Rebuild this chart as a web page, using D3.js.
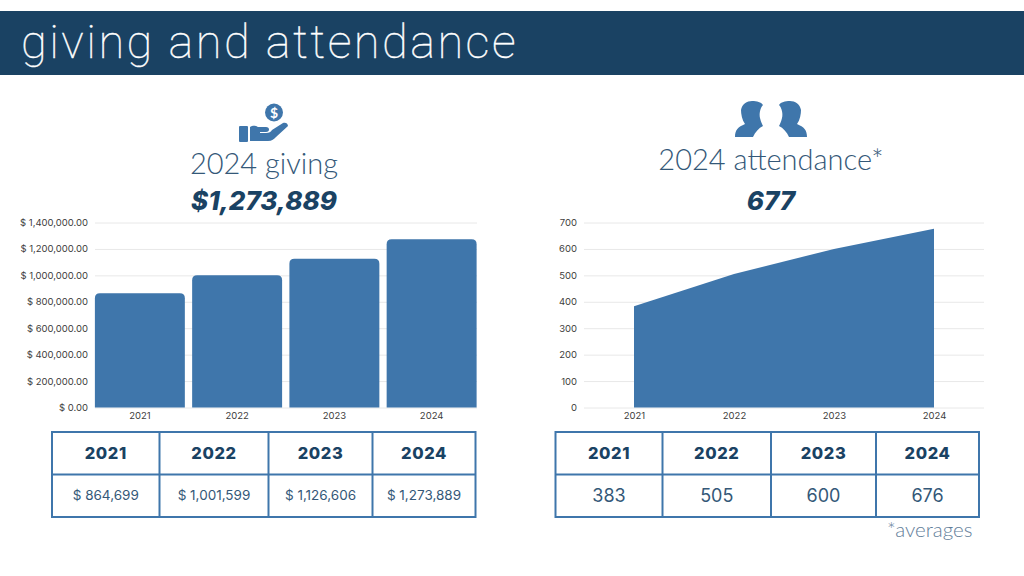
<!DOCTYPE html>
<html><head><meta charset="utf-8">
<script src="https://cdn.jsdelivr.net/npm/d3@7"></script>
<style>
html,body{margin:0;padding:0;background:#fff;overflow:hidden}
svg{display:block}
text{font-family:"Lato",sans-serif}
.axis text{font-family:"Inter","Noto Sans",sans-serif;fill:#404040}
</style></head><body>
<svg id="c" width="1024" height="576"></svg>
<script>
const years = ["2021","2022","2023","2024"];
const givingValues = [864699,1001599,1126606,1273889];
const attendanceValues = [383,505,600,676];
const givingLabels = ["$ 864,699","$ 1,001,599","$ 1,126,606","$ 1,273,889"];
const attendanceLabels = ["383","505","600","676"];
const givingTicks = [0,200000,400000,600000,800000,1000000,1200000,1400000];
const attendanceTicks = [0,100,200,300,400,500,600,700];
const titleText = "giving and attendance";

const NAVY="#1a4263", BLUE="#3f76ab", TXT="#345878", GRID="#e8e8e8";
const svg=d3.select("#c");
svg.append("rect").attr("x",0).attr("y",11).attr("width",1024).attr("height",64).attr("fill",NAVY);
svg.append("text").text(titleText).attr("x",21).attr("y",58).attr("fill","#fff").attr("stroke","#fff").attr("stroke-width",0.35)
  .attr("font-size",47).attr("font-weight",100).attr("letter-spacing",2.45).style("font-family","Roboto");

function heading(cx,y1,t1,y2,t2){
  svg.append("text").text(t1).attr("x",cx).attr("y",y1).attr("text-anchor","middle").attr("fill",TXT)
    .attr("font-size",29).attr("font-weight",300).style("font-family","Lato");
  svg.append("text").text(t2).attr("x",cx).attr("y",y2).attr("text-anchor","middle").attr("fill",NAVY)
    .attr("font-size",26).attr("font-weight",800).attr("font-style","italic").style("font-family","Inter");
}
heading(264,174,"2024 giving",210,"$1,273,889");
heading(771,170,"2024 attendance*",210,"677");

// hand icon
const hand=svg.append("g").attr("fill",BLUE);
hand.append("rect").attr("x",239).attr("y",126).attr("width",9).attr("height",16).attr("rx",1);
hand.append("path").attr("d","M250,127 L250,141 L268,141 C272,141 274,139 276,137 L288,126 C288,123 285,122 283,123 L272,130 C271,132 269,133 266,133 L260,133 L260,132 L266,132 C270,132 270,127 266,127 L258,127 C255,125 252,126 250,127 Z");
hand.append("circle").attr("cx",274).attr("cy",112.5).attr("r",9);
hand.append("text").text("$").attr("x",274).attr("y",117.5).attr("text-anchor","middle").attr("fill","#fff")
  .attr("font-size",14).attr("font-weight",700);

// people icon (right one is the mirror of the left about the centre x=771)
const person="M735,137 C735,130 738,127 745,124 C742,120 741,114 741,110 C742,104 747,101 752,101 C757,101 761,102 763,105 C760,108 759,114 760,118 C761,122 762,124 763,126 C759,128 755,132 753,137 Z";
svg.append("path").attr("d",person).attr("fill",BLUE);
svg.append("path").attr("d",person).attr("transform","translate(1542,0) scale(-1,1)").attr("fill",BLUE);

function axisY(g,y,x0,x1,fmt,ticks){
  const a=g.append("g").attr("class","axis").attr("transform",`translate(${x0},0)`)
    .call(d3.axisLeft(y).tickValues(ticks).tickSize(0).tickPadding(7).tickFormat(fmt));
  a.select(".domain").remove();
  a.selectAll("text").attr("font-size",9.5);
  g.insert("g",":first-child").selectAll("line").data(ticks).join("line")
    .attr("x1",x0).attr("x2",x1).attr("y1",d=>y(d)+.5).attr("y2",d=>y(d)+.5).attr("stroke",GRID).attr("stroke-width",1);
}
function axisX(g,x,yy){
  const a=g.append("g").attr("class","axis").attr("transform",`translate(0,${yy})`)
    .call(d3.axisBottom(x).tickSize(0).tickPadding(5));
  a.select(".domain").remove();
  a.selectAll("text").attr("font-size",9.5);
}

// giving
const g1=svg.append("g");
const y1=d3.scaleLinear().domain([0,1400000]).range([407.5,222.5]);
const x1=d3.scaleBand().domain(years).range([91,480.5]).paddingInner(.075).paddingOuter(.04);
axisY(g1,y1,95,477,d=>"$ "+d3.format(",.2f")(d),givingTicks);
const r=5;
g1.selectAll(".bar").data(years).join("path").attr("fill",BLUE).attr("d",(d,i)=>{
  const a=x1(d),b=a+x1.bandwidth(),t=y1(givingValues[i]),z=y1(0);
  return `M${a},${z}V${t+r}Q${a},${t} ${a+r},${t}H${b-r}Q${b},${t} ${b},${t+r}V${z}Z`;
});
axisX(g1,x1,407);

// attendance
const g2=svg.append("g");
const y2=d3.scaleLinear().domain([0,700]).range([407.5,222.5]);
const x2=d3.scalePoint().domain(years).range([634,934]);
axisY(g2,y2,584,984,d=>d,attendanceTicks);
const area=d3.area().x((d,i)=>x2(years[i])).y0(y2(0)).y1(d=>y2(d));
g2.append("path").datum(attendanceValues).attr("fill",BLUE).attr("d",area);
axisX(g2,x2,407);

// tables
function table(left,edges,vals,valSize){
  const top=432,mid=474.5,bot=517;
  const t=svg.append("g");
  t.selectAll(".h").data(years).join("text").text(d=>d)
    .attr("x",(d,i)=>(edges[i]+edges[i+1])/2+left).attr("y",459).attr("text-anchor","middle")
    .attr("fill",NAVY).attr("font-size",16.5).attr("font-weight",800).style("font-family","Inter").attr("letter-spacing",.6);
  t.selectAll(".v").data(vals).join("text").text(d=>d)
    .attr("x",(d,i)=>(edges[i]+edges[i+1])/2+left).attr("y",valSize>14?501.5:500).attr("text-anchor","middle")
    .attr("fill",TXT).attr("font-size",valSize).style("font-family","Inter");
  const w=edges[4];
  t.append("rect").attr("x",left).attr("y",top).attr("width",w).attr("height",bot-top).attr("fill","none").attr("stroke",BLUE).attr("stroke-width",2);
  t.append("line").attr("x1",left).attr("x2",left+w).attr("y1",mid).attr("y2",mid).attr("stroke",BLUE).attr("stroke-width",2);
  t.selectAll(".s").data(edges.slice(1,4)).join("line").attr("x1",d=>left+d).attr("x2",d=>left+d)
    .attr("y1",top).attr("y2",bot).attr("stroke",BLUE).attr("stroke-width",2);
}
table(52,[0,107.5,216.5,320.5,423.5],givingLabels,13.5);
table(555.5,[0,107,215.5,320.5,423.5],attendanceLabels,18);
svg.append("text").text("*averages").attr("x",887).attr("y",537).attr("fill","#5f7d99").attr("font-size",20.5).attr("font-weight",300).style("font-family","Lato");
</script>
</body></html>
